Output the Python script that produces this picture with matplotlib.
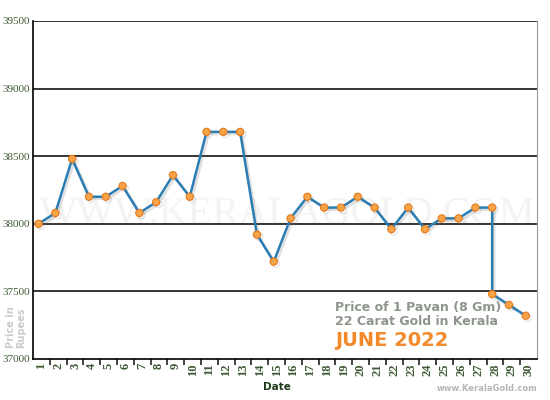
import matplotlib.pyplot as plt
import matplotlib.patheffects as pe
import numpy as np

# June 2022, price of 1 pavan (8 g) 22 carat gold in Kerala
days = [1, 2, 3, 4, 5, 6, 7, 8, 9, 10, 11, 12, 13, 14, 15, 16, 17, 18, 19, 20,
        21, 22, 23, 24, 25, 26, 27, 28, 28, 29, 30]
prices = [38000, 38080, 38480, 38200, 38200, 38280, 38080, 38160, 38360, 38200,
          38680, 38680, 38680, 37920, 37720, 38040, 38200, 38120, 38120, 38200,
          38120, 37960, 38120, 37960, 38040, 38040, 38120, 38120, 37480, 37400, 37320]
day_labels = [str(d) for d in range(1, 31)]
y_ticks = [37000, 37500, 38000, 38500, 39000, 39500]

green = "#3d5a35"

fig = plt.figure(figsize=(5.5, 4), dpi=100)
ax = fig.add_axes([0.06, 0.1025, 0.9164, 0.845])

ax.set_xlim(0.5, 30.5)
ax.set_ylim(37000, 39500)

# watermark
ax.text(15.6, 38070, "WWW.KERALAGOLD.COM", family="Liberation Serif", fontsize=29,
        color="#f3f3f3", ha="center", va="center", zorder=0)

for y in y_ticks[1:]:
    ax.axhline(y, color="black", lw=1.1, zorder=1)

x = np.array(days) - 0.17
ax.plot(x, prices, color="#2a7db3", lw=1.8, marker="o", markersize=5.2,
        markerfacecolor="#f7a448", markeredgecolor="#e57a1c", markeredgewidth=0.8,
        zorder=3,
        path_effects=[pe.SimpleLineShadow(offset=(1.5, -1.5), shadow_color="#666666", alpha=0.2),
                      pe.Normal()])

ax.set_yticks(y_ticks)
ax.set_yticklabels([str(v) for v in y_ticks], family="Liberation Serif", fontsize=8,
                   color=green)
ax.tick_params(axis="y", length=0, pad=2)

ax.set_xticks(range(1, 31))
ax.set_xticklabels(day_labels, rotation=90, family="Liberation Serif", fontsize=9,
                   fontweight="bold", color=green)
ax.tick_params(axis="x", length=0, pad=3)
ax.set_xticks(np.arange(1.5, 30.5, 1), minor=True)
ax.tick_params(axis="x", which="minor", length=4, width=1.2, color="#222222",
               direction="out")

for s in ["left", "bottom"]:
    ax.spines[s].set_color("black")
    ax.spines[s].set_linewidth(1.2)
ax.spines["top"].set_visible(False)
ax.spines["right"].set_color("#999999")

fig.text(0.5036, 0.02, "Date", fontsize=7.5, fontweight="bold", color="#1c3a18",
         ha="center", va="bottom")
fig.text(0.029, 0.182, "Price in\nRupees", rotation=90, fontsize=7, fontweight="bold",
         color="#c9cdc9", ha="center", va="center", linespacing=1.0)

fig.text(0.609, 0.214, "Price of 1 Pavan (8 Gm)\n22 Carat Gold in Kerala", fontsize=9,
         fontweight="bold", color="#8c968a", ha="left", va="center", linespacing=1.15)
fig.text(0.609, 0.15, "JUNE 2022", fontsize=14, fontweight="bold", color="#f28a2c",
         ha="left", va="center")
fig.text(0.978, 0.018, "www.KeralaGold.com", fontsize=6, fontweight="bold",
         color="#b4b8b4", ha="right", va="bottom")

fig.savefig("out.png", dpi=100)
